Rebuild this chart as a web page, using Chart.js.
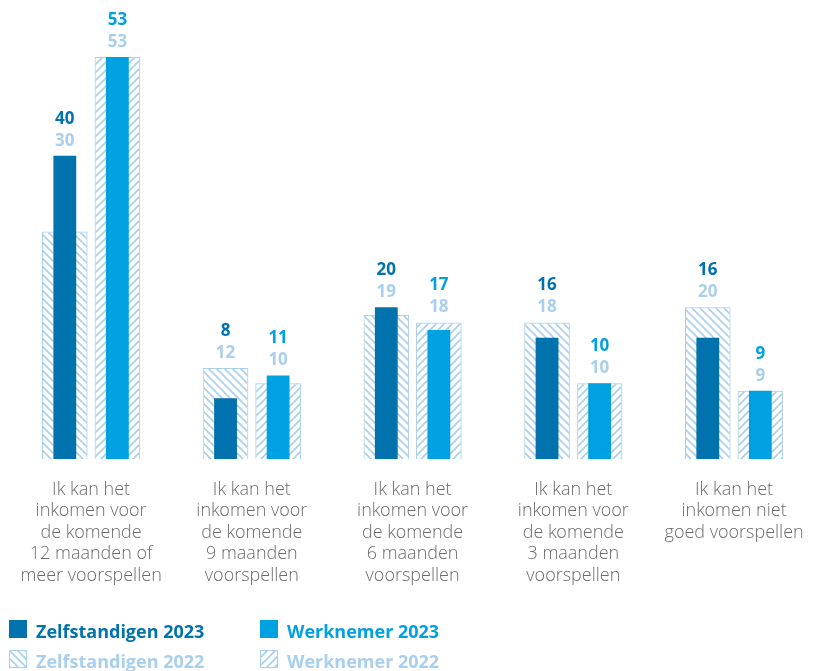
<!DOCTYPE html>
<html>
<head>
<meta charset="utf-8">
<script src="https://cdn.jsdelivr.net/npm/chart.js@4"></script>
<style>
  html, body { margin: 0; padding: 0; background: #ffffff; }
  body { width: 824px; height: 671px; position: relative; overflow: hidden; font-family: "Open Sans", sans-serif; }
  #wrap { position: absolute; left: 0; top: 0; width: 824px; height: 620px; }
  .leg { position: absolute; width: 240px; height: 18px; font-weight: 700; font-size: 18px; white-space: nowrap; }
  .leg canvas { position: absolute; left: 0; top: 0; }
  .leg span { position: absolute; left: 27px; top: 2px; line-height: 19px; }
</style>
</head>
<body>
<div id="wrap"><canvas id="chart"></canvas></div>
<div class="leg" style="left:9px;top:620px;color:#0072ae"><canvas id="sw0" width="18" height="18"></canvas><span>Zelfstandigen 2023</span></div>
<div class="leg" style="left:260px;top:620px;color:#00a1e0"><canvas id="sw1" width="18" height="18"></canvas><span>Werknemer 2023</span></div>
<div class="leg" style="left:9px;top:650px;color:#a9cfee"><canvas id="sw2" width="18" height="18"></canvas><span>Zelfstandigen 2022</span></div>
<div class="leg" style="left:260px;top:650px;color:#a9cfee"><canvas id="sw3" width="18" height="18"></canvas><span>Werknemer 2022</span></div>
<script>
// Categories and values (percentages)
const categories = [
  ["Ik kan het", "inkomen voor", "de komende", "12 maanden of", "meer voorspellen"],
  ["Ik kan het", "inkomen voor", "de komende", "9 maanden", "voorspellen"],
  ["Ik kan het", "inkomen voor", "de komende", "6 maanden", "voorspellen"],
  ["Ik kan het", "inkomen voor", "de komende", "3 maanden", "voorspellen"],
  ["Ik kan het", "inkomen niet", "goed voorspellen"]
];
const zelfstandigen2023 = [40, 8, 20, 16, 16];
const werknemer2023 = [53, 11, 17, 10, 9];
const zelfstandigen2022 = [30, 12, 19, 18, 20];
const werknemer2022 = [53, 10, 18, 10, 9];

const DARK = '#0072ae';
const BRIGHT = '#00a1e0';
const LIGHT = '#a9cfee';

// Diagonal hatch fill; dir 1 = "\" , dir -1 = "/"
function hatch(dir) {
  const s = 8;
  const c = document.createElement('canvas');
  c.width = s; c.height = s;
  const g = c.getContext('2d');
  g.strokeStyle = LIGHT;
  g.lineWidth = 1.6;
  g.beginPath();
  if (dir > 0) {
    g.moveTo(-2, -2); g.lineTo(s + 2, s + 2);
    g.moveTo(-2, s - 2); g.lineTo(2, s + 2);
    g.moveTo(s - 2, -2); g.lineTo(s + 2, 2);
  } else {
    g.moveTo(-2, s + 2); g.lineTo(s + 2, -2);
    g.moveTo(-2, 2); g.lineTo(2, -2);
    g.moveTo(s - 2, s + 2); g.lineTo(s + 2, s - 2);
  }
  g.stroke();
  return g.createPattern(c, 'repeat');
}
const hatchBack = hatch(1);
const hatchFwd = hatch(-1);

// Legend swatches
function swatch(id, fill, dir) {
  const g = document.getElementById(id).getContext('2d');
  if (dir) {
    g.fillStyle = hatch(dir);
    g.fillRect(0, 0, 18, 18);
    g.strokeStyle = LIGHT; g.lineWidth = 1;
    g.strokeRect(0.5, 0.5, 17, 17);
  } else {
    g.fillStyle = fill;
    g.fillRect(0, 0, 18, 18);
  }
}
swatch('sw0', DARK);
swatch('sw1', BRIGHT);
swatch('sw2', null, 1);
swatch('sw3', null, -1);

// Two value labels stacked above each pair of bars
const valueLabels = {
  id: 'valueLabels',
  afterDatasetsDraw(chart) {
    const ctx = chart.ctx;
    const y = chart.scales.y;
    const pairs = [[0, 2, DARK], [1, 3, BRIGHT]];
    ctx.save();
    ctx.textAlign = 'center';
    ctx.textBaseline = 'middle';
    ctx.font = '700 17px "Open Sans"';
    pairs.forEach(([a, b, col]) => {
      const ds23 = chart.data.datasets[a].data;
      const ds22 = chart.data.datasets[b].data;
      const meta = chart.getDatasetMeta(b);
      ds23.forEach((v, i) => {
        const x = meta.data[i].x;
        const top = y.getPixelForValue(Math.max(v, ds22[i]));
        ctx.fillStyle = LIGHT;
        ctx.fillText(String(ds22[i]), x, top - 15);
        ctx.fillStyle = col;
        ctx.fillText(String(v), x, top - 37);
      });
    });
    ctx.restore();
  }
};

const CAT = 0.654;
new Chart(document.getElementById('chart'), {
  type: 'bar',
  data: {
    labels: categories,
    datasets: [
      { label: 'Zelfstandigen 2023', data: zelfstandigen2023, stack: 'z', backgroundColor: DARK, borderWidth: 0, categoryPercentage: CAT, barPercentage: 0.434 },
      { label: 'Werknemer 2023', data: werknemer2023, stack: 'w', backgroundColor: BRIGHT, borderWidth: 0, categoryPercentage: CAT, barPercentage: 0.434 },
      { label: 'Zelfstandigen 2022', data: zelfstandigen2022, stack: 'z', backgroundColor: hatchBack, borderColor: LIGHT, borderWidth: 1, categoryPercentage: CAT, barPercentage: 0.868 },
      { label: 'Werknemer 2022', data: werknemer2022, stack: 'w', backgroundColor: hatchFwd, borderColor: LIGHT, borderWidth: 1, categoryPercentage: CAT, barPercentage: 0.868 }
    ]
  },
  options: {
    responsive: true,
    maintainAspectRatio: false,
    animation: false,
    layout: { padding: { left: 9, right: 5, top: 0, bottom: 13 } },
    plugins: { legend: { display: false }, tooltip: { enabled: false } },
    scales: {
      x: {
        stacked: true,
        grid: { display: false, drawTicks: false },
        border: { display: false },
        ticks: {
          color: '#6b6b6b',
          font: { family: '"Open Sans Light", "Open Sans"', size: 18, weight: 300, lineHeight: 1.2 },
          padding: 20,
          maxRotation: 0,
          autoSkip: false
        }
      },
      y: { display: false, stacked: false, min: 0, max: 60.53 }
    }
  },
  plugins: [valueLabels]
});
</script>
</body>
</html>
